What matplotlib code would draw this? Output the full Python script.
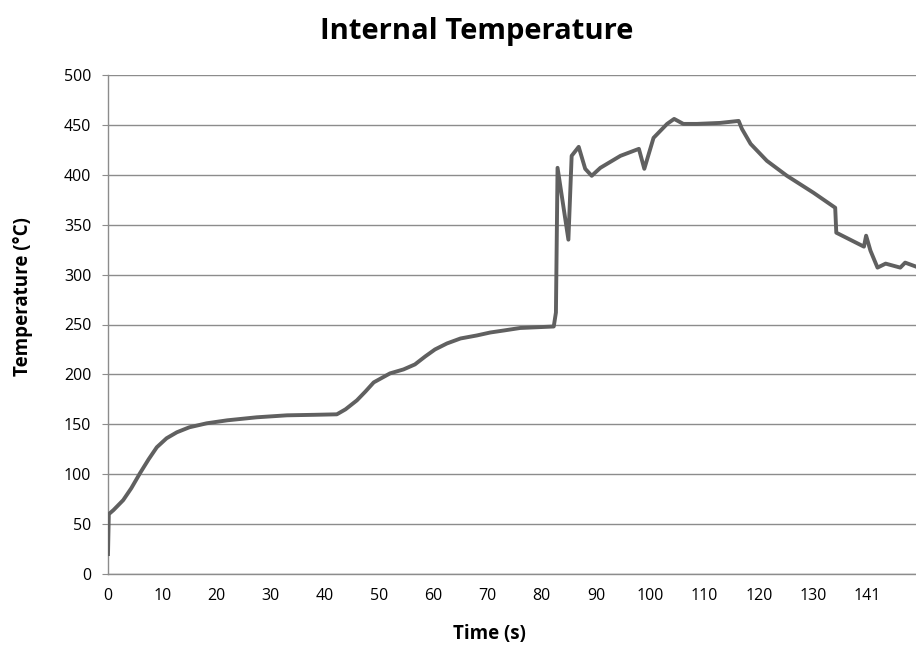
import matplotlib
matplotlib.use("Agg")
import matplotlib.pyplot as plt

time_idx = [0, 0.15, 1.0, 2.8, 4.3, 5.9, 7.5, 9.0, 10.8, 12.7, 15.0, 18.2, 22.0, 27.4, 33.0, 38.0, 42.2,
            43.8, 45.9, 47.5, 49.0, 52.0, 54.5, 56.6, 58.5, 60.3, 62.5, 65.0, 68.0, 70.5, 73.0, 76.0, 82.2,
            82.6, 82.9, 84.9, 85.5, 86.8, 88.0, 89.2, 90.8, 94.5, 97.9, 98.9, 100.6, 103.1, 104.4, 106.1,
            108.6, 112.9, 116.3, 116.9, 118.5, 121.5, 125.2, 130.1, 134.1, 134.3, 139.4, 139.8, 140.6,
            141.9, 143.4, 146.1, 147.0, 149.0]
temperature = [20, 60, 64, 74, 86, 101, 115, 127, 136, 142, 147, 151, 154, 157, 159, 159.5, 160,
               165, 174, 183, 192, 201, 205, 210, 218, 225, 231, 236, 239, 242, 244, 246.5, 248,
               262, 407, 335, 419, 428, 406, 399, 407, 419, 426, 406, 437, 451, 456, 451,
               451, 452, 454, 446, 431, 414, 399, 382, 367, 342, 328, 339, 324,
               307, 311, 307, 312, 308]

xtick_vals = [0, 10, 20, 30, 40, 50, 60, 70, 80, 90, 100, 110, 120, 130, 140]
xtick_labels = ["0", "10", "20", "30", "40", "50", "60", "70", "80", "90", "100", "110", "120", "130", "141"]
ytick_vals = [0, 50, 100, 150, 200, 250, 300, 350, 400, 450, 500]

plt.rcParams['font.family'] = ['Open Sans', 'DejaVu Sans']

fig = plt.figure(figsize=(9.16, 6.45), dpi=100)
ax = fig.add_axes([108/916, 71/645, 808/916, 499/645])

ax.plot(time_idx, temperature, color="#606060", linewidth=2.8, solid_joinstyle="round", zorder=3)

ax.set_xlim(0, 149)
ax.set_ylim(0, 500)
ax.set_xticks(xtick_vals)
ax.set_xticklabels(xtick_labels, fontsize=11.5)
ax.set_yticks(ytick_vals)
ax.set_yticklabels([str(v) for v in ytick_vals], fontsize=11.5)

ax.yaxis.grid(True, color="#8c8c8c", linewidth=1.0)
ax.set_axisbelow(True)
for s in ["top", "right"]:
    ax.spines[s].set_visible(False)
for s in ["left", "bottom"]:
    ax.spines[s].set_color("#8c8c8c")
    ax.spines[s].set_linewidth(1.0)
ax.tick_params(axis="y", length=4, color="#8c8c8c", pad=8)
ax.tick_params(axis="x", length=0, pad=10)

fig.text(477/916, 1 - 32/645, "Internal Temperature", ha="center", va="center",
         fontsize=21, fontweight="bold")
fig.text(489/916, 1 - 634/645, "Time (s)", ha="center", va="center", fontsize=13.5, fontweight="bold")
fig.text(23/916, 1 - 297/645, "Temperature (°C)", ha="center", va="center", rotation=90,
         fontsize=13.5, fontweight="bold")

fig.savefig("out.png", dpi=100)
